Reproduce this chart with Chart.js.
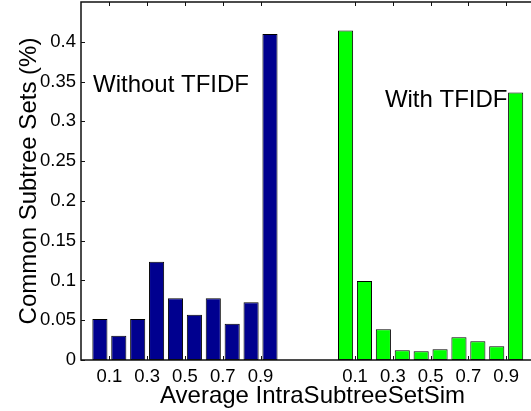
<!DOCTYPE html>
<html>
<head>
<meta charset="utf-8">
<script src="https://cdn.jsdelivr.net/npm/chart.js@4.4.1/dist/chart.umd.min.js"></script>
<style>
    html, body { margin: 0; padding: 0; background: #fff; overflow: hidden; }
    #wrap { width: 544px; height: 411px; }
</style>
</head>
<body>
<div id="wrap"><canvas id="simChart" width="544" height="411"></canvas></div>
<script>
// bin centres of Average IntraSubtreeSetSim
const bins = [0.05, 0.15, 0.25, 0.35, 0.45, 0.55, 0.65, 0.75, 0.85, 0.95];
// second group is shifted right along the axis
const withShift = 1.3;

const withoutTfidf = [0.0515, 0.0306, 0.0515, 0.1236, 0.0775, 0.057, 0.0775, 0.0457, 0.0725, 0.4097];
const withTfidf = [0.4143, 0.0993, 0.0385, 0.0121, 0.0109, 0.0134, 0.0285, 0.0235, 0.0172, 0.3364];

const xTickValues = [0.1, 0.3, 0.5, 0.7, 0.9, 1.4, 1.6, 1.8, 2.0, 2.2];
const xTickLabels = ['0.1', '0.3', '0.5', '0.7', '0.9', '0.1', '0.3', '0.5', '0.7', '0.9'];
const yTickValues = [0, 0.05, 0.1, 0.15, 0.2, 0.25, 0.3, 0.35, 0.4];
const yTickLabels = ['0', '0.05', '0.1', '0.15', '0.2', '0.25', '0.3', '0.35', '0.4'];

(function () {
    'use strict';

    Chart.defaults.font.family = "'Liberation Sans', Arial, sans-serif";
    Chart.defaults.color = '#000';

    // matlab style box with inward ticks + text notes
    const boxPlugin = {
        id: 'matlabBox',
        afterDatasetsDraw(chart) {
            const ctx = chart.ctx;
            const a = chart.chartArea;
            const xs = chart.scales.x, ys = chart.scales.y;
            ctx.save();
            ctx.strokeStyle = '#111';
            ctx.lineWidth = 1.5;
            ctx.beginPath();
            ctx.moveTo(a.right, a.top);
            ctx.lineTo(a.left, a.top);
            ctx.lineTo(a.left, a.bottom);
            ctx.lineTo(a.right, a.bottom);
            ctx.stroke();

            ctx.lineWidth = 1;
            ctx.beginPath();
            xTickValues.forEach(function (v) {
                const px = Math.round(xs.getPixelForValue(v)) + 0.5;
                ctx.moveTo(px, a.bottom);
                ctx.lineTo(px, a.bottom - 4);
                ctx.moveTo(px, a.top);
                ctx.lineTo(px, a.top + 4);
            });
            yTickValues.forEach(function (v) {
                const py = Math.round(ys.getPixelForValue(v)) + 0.5;
                ctx.moveTo(a.left, py);
                ctx.lineTo(a.left + 4, py);
            });
            ctx.stroke();

            ctx.fillStyle = '#000';
            ctx.font = "24px 'Liberation Sans', Arial, sans-serif";
            ctx.textBaseline = 'alphabetic';
            ctx.textAlign = 'left';
            ctx.fillText('Without TFIDF', xs.getPixelForValue(0.0135), ys.getPixelForValue(0.337));
            ctx.fillText('With TFIDF', xs.getPixelForValue(1.558), ys.getPixelForValue(0.318));
            ctx.restore();
        }
    };

    const el = document.getElementById('simChart');
    new Chart(el.getContext('2d'), {
        type: 'bar',
        data: {
            datasets: [
                {
                    label: 'Without TFIDF',
                    data: bins.map((b, i) => ({ x: b, y: withoutTfidf[i] })),
                    backgroundColor: '#00008f',
                    borderColor: '#000',
                    borderWidth: 1,
                    borderSkipped: false
                },
                {
                    label: 'With TFIDF',
                    data: bins.map((b, i) => ({ x: b + withShift, y: withTfidf[i] })),
                    backgroundColor: '#00ff00',
                    borderColor: '#000',
                    borderWidth: 1,
                    borderSkipped: false
                }
            ]
        },
        options: {
            responsive: false,
            animation: false,
            grouped: false,
            categoryPercentage: 1,
            barPercentage: 0.8,
            layout: { padding: { top: 2, right: 0, left: 0, bottom: 0 } },
            plugins: { legend: { display: false }, tooltip: { enabled: false } },
            scales: {
                x: {
                    type: 'linear',
                    min: -0.05,
                    max: 2.4,
                    offset: false,
                    grid: { display: false, drawTicks: false },
                    border: { display: false },
                    afterBuildTicks: (s) => { s.ticks = xTickValues.map(v => ({ value: v })); },
                    afterFit: (s) => {
                        s.height = 51;
                        s.paddingLeft = 0;
                        s.paddingRight = 0;
                    },
                    ticks: {
                        autoSkip: false,
                        maxRotation: 0,
                        padding: 6,
                        font: { size: 18.5 },
                        callback: (v, i) => xTickLabels[i]
                    },
                    title: {
                        display: true,
                        text: 'Average IntraSubtreeSetSim',
                        font: { size: 24 },
                        padding: { top: 0, bottom: 0.5 }
                    }
                },
                y: {
                    min: 0,
                    max: 0.45,
                    grid: { display: false, drawTicks: false },
                    border: { display: false },
                    afterBuildTicks: (s) => { s.ticks = yTickValues.map(v => ({ value: v })); },
                    afterFit: (s) => {
                        s.width = 81;
                        s.paddingTop = 0;
                        s.paddingBottom = 0;
                    },
                    ticks: {
                        padding: 5,
                        font: { size: 18.5 },
                        callback: (v, i) => yTickLabels[i]
                    },
                    title: {
                        display: true,
                        text: 'Common Subtree Sets (%)',
                        font: { size: 24 },
                        padding: { top: 15, bottom: 0 }
                    }
                }
            }
        },
        plugins: [boxPlugin]
    });
})();
</script>
</body>
</html>
